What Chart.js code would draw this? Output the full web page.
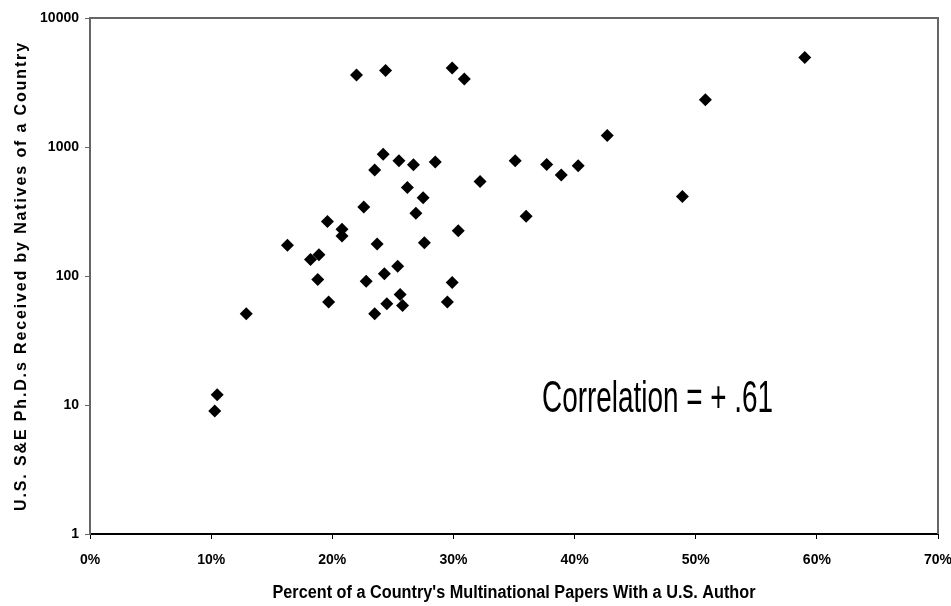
<!DOCTYPE html>
<html>
<head>
<meta charset="utf-8">
<script src="https://cdn.jsdelivr.net/npm/chart.js@4"></script>
<style>
  html, body { margin: 0; padding: 0; background: #fff; }
  #wrap { width: 951px; height: 606px; }
</style>
</head>
<body>
<div id="wrap"><canvas id="myChart" width="951" height="606"></canvas></div>
<script>
// percent of multinational papers with a US author
var pctUS = [22.0, 24.4, 29.9, 30.9, 24.2, 25.5, 26.7, 28.5, 23.5, 32.2,
  26.2, 27.5, 22.6, 26.9, 19.6, 30.4, 20.8, 20.8, 16.3, 23.7,
  27.6, 18.2, 18.9, 25.4, 24.3, 18.8, 22.8, 29.9, 19.7, 12.9,
  23.5, 24.5, 25.6, 25.8, 29.5, 10.5, 10.3, 59.0, 50.8, 42.7,
  35.1, 37.7, 40.3, 38.9, 36.0, 48.9];
// US S&E PhDs received by natives
var phds = [3620, 3910, 4100, 3370, 880, 782, 728, 764, 662, 541,
  486, 404, 343, 306, 265, 224, 230, 204, 173, 177,
  181, 134, 146, 119, 104, 94, 91, 89, 63, 51,
  51, 61, 72, 59, 63, 12, 9, 4930, 2320, 1228,
  782, 732, 716, 606, 290, 414];
var yTicks = [1, 10, 100, 1000, 10000];
var xTitle = "Percent of a Country's Multinational Papers With a U.S. Author";
var yTitle = "U.S. S&E Ph.D.s Received by Natives of a Country";
var corrLabel = "Correlation = + .61";

var sans = "'Liberation Sans', Arial, sans-serif";

var pts = [];
for (var i = 0; i < pctUS.length; i++) pts.push({ x: pctUS[i], y: phds[i] });

// draws squeezed text so it fills a given width
function squeezed(c, txt, x, y, w) {
  var m = c.measureText(txt).width;
  c.save();
  c.translate(x, y);
  c.scale(w / m, 1);
  c.fillText(txt, 0, 0);
  c.restore();
}

var frame = {
  id: "frame",
  afterDraw: function (chart) {
    var c = chart.ctx, a = chart.chartArea;
    c.save();
    c.strokeStyle = "#666";
    c.lineWidth = 2;
    c.beginPath();
    c.moveTo(a.left, a.top);
    c.lineTo(a.right, a.top);
    c.lineTo(a.right, a.bottom);
    c.stroke();

    c.fillStyle = "#000";
    // correlation note
    c.font = "44px " + sans;
    c.textAlign = "left";
    c.textBaseline = "alphabetic";
    squeezed(c, corrLabel, 542, 412, 231);

    // x title
    c.font = "bold 18px " + sans;
    c.textAlign = "center";
    c.textBaseline = "middle";
    squeezed(c, xTitle, (a.left + a.right) / 2, 593, 483);

    // y title, letter spaced
    c.font = "bold 16px " + sans;
    var plain = c.measureText(yTitle).width;
    c.letterSpacing = ((468 - plain) / (yTitle.length - 1)).toFixed(2) + "px";
    c.translate(22, (a.top + a.bottom) / 2);
    c.rotate(-Math.PI / 2);
    c.fillText(yTitle, 0, 0);
    c.restore();
  }
};

var ctx = document.getElementById("myChart");
var myChart = new Chart(ctx, {
  type: "scatter",
  data: {
    datasets: [{
      data: pts,
      pointStyle: "rectRot",
      pointRadius: 6.5,
      pointHoverRadius: 6.5,
      backgroundColor: "#000",
      borderColor: "#000",
      borderWidth: 0
    }]
  },
  options: {
    responsive: false,
    animation: false,
    layout: { padding: { top: 18, right: 13, left: 0, bottom: 0 } },
    plugins: { legend: { display: false }, tooltip: { enabled: false } },
    scales: {
      x: {
        type: "linear",
        min: 0, max: 70,
        afterFit: function (s) { s.height = 72; s.paddingRight = 0; s.paddingLeft = 0; },
        border: { color: "#000", width: 2 },
        grid: { drawOnChartArea: false, tickLength: 5, color: "#000", tickWidth: 1 },
        ticks: {
          stepSize: 10,
          padding: 13,
          maxRotation: 0,
          color: "#000",
          font: { family: sans, size: 14, weight: "bold" },
          callback: function (v) { return v + "%"; }
        }
      },
      y: {
        type: "logarithmic",
        min: 1, max: 10000,
        afterFit: function (s) { s.width = 90; s.paddingTop = 0; s.paddingBottom = 0; },
        afterBuildTicks: function (s) {
          s.ticks = yTicks.map(function (v) { return { value: v }; });
        },
        border: { color: "#666", width: 2 },
        grid: { drawOnChartArea: false, tickLength: 5, color: "#666" },
        ticks: {
          padding: 6,
          color: "#000",
          font: { family: sans, size: 14, weight: "bold" },
          callback: function (v) { return String(v); }
        }
      }
    }
  },
  plugins: [frame]
});
</script>
</body>
</html>
